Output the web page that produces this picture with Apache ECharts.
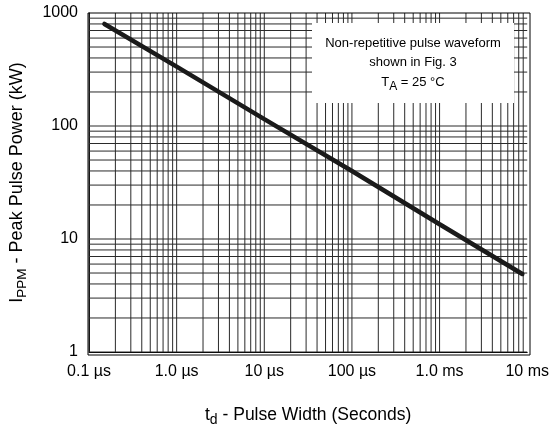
<!DOCTYPE html>
<html><head><meta charset="utf-8">
<script src="https://cdn.jsdelivr.net/npm/echarts@6/dist/echarts.min.js"></script>
<style>html,body{margin:0;padding:0;background:#fff}#c{width:552px;height:432px}</style>
</head><body><div id="c"></div>
<script>
// Pulse width (s) vs peak pulse power (kW)
const pulseWidth = [1.5e-7, 1e-6, 1e-5, 1e-4, 1e-3, 8.8e-3];
const peakPower  = [800, 335, 115, 40, 13.5, 4.9];
const xTickLabels = ['0.1 µs', '1.0 µs', '10 µs', '100 µs', '1.0 ms', '10 ms'];
const yTickLabels = ['1', '10', '100', '1000'];
const xGridValues = [];
for (let e = -7; e <= -3; e++) for (let m = 1; m <= 9; m++) xGridValues.push(+(m * Math.pow(10, e)).toPrecision(3));
const yGridValues = [];
for (let e = 0; e <= 2; e++) for (let m = 1; m <= 9; m++) yGridValues.push(m * Math.pow(10, e));

const X_MIN = 1e-7, X_MAX = 1e-2, Y_MIN = 1, Y_MAX = 1000;
const FONT = '"Liberation Sans", Arial, sans-serif';
const gridColor = '#2a2a2a';

const vData = [];
xGridValues.forEach(v => { vData.push([v, Y_MIN], [v, Y_MAX], [v, '-']); });
const hData = [];
yGridValues.forEach(v => { hData.push([X_MIN, v], [X_MAX, v], ['-', v]); });

const chart = echarts.init(document.getElementById('c'), null, {renderer: 'canvas'});
chart.setOption({
  animation: false,
  textStyle: {fontFamily: FONT},
  grid: {left: 88, right: 22, top: 13, bottom: 77},
  xAxis: {
    type: 'log', logBase: 10, min: X_MIN, max: X_MAX,
    axisLine: {show: true, onZero: false, lineStyle: {color: '#000', width: 1}},
    axisTick: {show: false},
    splitLine: {show: false},
    axisLabel: {fontFamily: FONT, fontSize: 16, color: '#000', margin: 12,
      formatter: (v, i) => xTickLabels[i] ?? ''},
    name: '{a|t}{s|d}{a| - Pulse Width (Seconds)}',
    nameLocation: 'middle', nameGap: 51,
    nameTextStyle: {rich: {
      a: {fontFamily: FONT, fontSize: 17.5, color: '#000'},
      s: {fontFamily: FONT, fontSize: 14, color: '#000', padding: [10, 0, 0, 0]}
    }}
  },
  yAxis: {
    type: 'log', logBase: 10, min: Y_MIN, max: Y_MAX,
    axisLine: {show: true, onZero: false, lineStyle: {color: '#000', width: 1}},
    axisTick: {show: false},
    splitLine: {show: false},
    axisLabel: {fontFamily: FONT, fontSize: 16, color: '#000', margin: 11,
      formatter: (v, i) => yTickLabels[i] ?? ''},
    name: '{a|I}{s|PPM}{a| - Peak Pulse Power (kW)}',
    nameLocation: 'middle', nameGap: 60, nameRotate: 90,
    nameTextStyle: {rich: {
      a: {fontFamily: FONT, fontSize: 18, color: '#000'},
      s: {fontFamily: FONT, fontSize: 13.5, color: '#000', padding: [10, 0, 0, 0]}
    }}
  },
  series: [
    {
      type: 'line', z: 1, silent: true, data: vData, showSymbol: false, connectNulls: false,
      lineStyle: {color: gridColor, width: 1}
    },
    {
      type: 'line', z: 1, silent: true, data: hData, showSymbol: false, connectNulls: false,
      lineStyle: {color: gridColor, width: 1}
    },
    {
      type: 'line', z: 5,
      data: pulseWidth.map((x, i) => [x, peakPower[i]]),
      showSymbol: false, smooth: false,
      lineStyle: {color: '#1a1a1a', width: 4.5, cap: 'round'}
    }
  ],
  graphic: [
    {type: 'rect', z: 3, shape: {x: 312, y: 23, width: 202, height: 80}, style: {fill: '#fff'}},
    {type: 'rect', z: 10, shape: {x: 88, y: 13, width: 442, height: 342}, style: {fill: 'none', stroke: '#000', lineWidth: 1}},
    {type: 'text', z: 4, x: 413, y: 43, style: {text: 'Non-repetitive pulse waveform', align: 'center', verticalAlign: 'middle', font: '13px ' + FONT, fill: '#000'}},
    {type: 'text', z: 4, x: 413, y: 62, style: {text: 'shown in Fig. 3', align: 'center', verticalAlign: 'middle', font: '13px ' + FONT, fill: '#000'}},
    {type: 'text', z: 4, x: 413, y: 82, style: {
      text: '{a|T}{s|A}{a| = 25 °C}', align: 'center', verticalAlign: 'middle',
      rich: {a: {fontFamily: FONT, fontSize: 13, fill: '#000'}, s: {fontFamily: FONT, fontSize: 12, fill: '#000', padding: [9, 0, 0, 0]}}
    }}
  ]
});
</script></body></html>
